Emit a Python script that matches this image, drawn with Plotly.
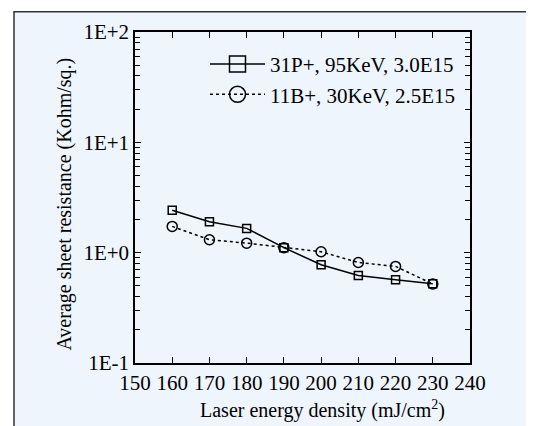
import plotly.graph_objects as go

energy = [160, 170, 180, 190, 200, 210, 220, 230]
res_p31 = [2.42, 1.91, 1.66, 1.11, 0.778, 0.62, 0.567, 0.522]
res_b11 = [1.73, 1.31, 1.22, 1.11, 1.02, 0.815, 0.751, 0.52]
name_p31 = "31P+, 95KeV, 3.0E15"
name_b11 = "11B+, 30KeV, 2.5E15"
x_ticks = [150, 160, 170, 180, 190, 200, 210, 220, 230, 240]
y_tickvals = [0.1, 1, 10, 100]
y_ticktext = ["1E-1", "1E+0", "1E+1", "1E+2"]
x_title = "Laser energy density (mJ/cm<sup>2</sup>)"
y_title = "Average sheet resistance (Kohm/sq.)"

FONT = "Liberation Serif"
OFF = 8  # page body margin
W, H = 534, 426
L, T = 135 - OFF, 28 - OFF
pw, ph = 335, 335
R = W - L - pw
B = H - T - ph

def px_x(x):
    return (x - OFF - L) / pw

def px_y(y):
    return (T + ph - (y - OFF)) / ph

fig = go.Figure()

# data traces
fig.add_trace(go.Scatter(
    x=energy, y=res_p31, mode="lines+markers", showlegend=False,
    line=dict(color="black", width=1.5),
    marker=dict(symbol="square-open", size=8, color="black", line=dict(width=1.5)),
))
fig.add_trace(go.Scatter(
    x=energy, y=res_b11, mode="lines+markers", showlegend=False,
    line=dict(color="black", width=1.5, dash="3px,3px"),
    marker=dict(symbol="circle-open", size=10, color="black", line=dict(width=1.5)),
))
# legend entries
fig.add_trace(go.Scatter(
    x=[None], y=[None], mode="lines+markers", name=name_p31,
    line=dict(color="black", width=1.5),
    marker=dict(symbol="square-open", size=16, color="black", line=dict(width=1.5)),
))
fig.add_trace(go.Scatter(
    x=[None], y=[None], mode="lines+markers", name=name_b11,
    line=dict(color="black", width=1.5, dash="3px,3px"),
    marker=dict(symbol="circle-open", size=16, color="black", line=dict(width=1.5)),
))

axis_common = dict(
    showline=True, linecolor="black", linewidth=1.5, mirror="ticks",
    ticks="inside", tickcolor="black", tickwidth=1.2,
    showgrid=False, zeroline=False,
    tickfont=dict(family=FONT, size=21, color="black"),
)

fig.update_xaxes(
    range=[150, 240], tickmode="array", tickvals=x_ticks, ticklen=6,
    **axis_common,
)
fig.update_yaxes(
    type="log", range=[-1, 2], tickmode="array", tickvals=y_tickvals,
    ticktext=y_ticktext, ticklen=6,
    minor=dict(ticks="inside", ticklen=5, dtick="D1", tickcolor="black",
               tickwidth=1.2, showgrid=False),
    **axis_common,
)

fig.update_layout(
    width=W, height=H,
    margin=dict(l=L, r=R, t=T, b=B),
    paper_bgcolor="white",
    plot_bgcolor="rgba(0,0,0,0)",
    font=dict(family=FONT, size=20, color="black"),
    showlegend=True,
    legend=dict(
        x=px_x(205), y=px_y(40), xanchor="left", yanchor="top",
        bgcolor="rgba(0,0,0,0)", borderwidth=0,
        itemwidth=55, font=dict(family=FONT, size=21, color="black"),
    ),
    shapes=[dict(
        type="rect", xref="paper", yref="paper", layer="below",
        x0=px_x(14), x1=px_x(530.5), y0=px_y(460), y1=px_y(7.5),
        fillcolor="#eef5fc", line=dict(color="#333333", width=1.5),
    )],
    annotations=[
        dict(text=x_title, xref="paper", yref="paper",
             x=px_x(322), y=px_y(410), xanchor="center", yanchor="middle",
             showarrow=False, font=dict(family=FONT, size=20, color="black")),
        dict(text=y_title, xref="paper", yref="paper", textangle=-90,
             x=px_x(65), y=px_y(353), xanchor="center", yanchor="bottom",
             showarrow=False, font=dict(family=FONT, size=20, color="black")),
    ],
)

fig.write_html("out.html")
